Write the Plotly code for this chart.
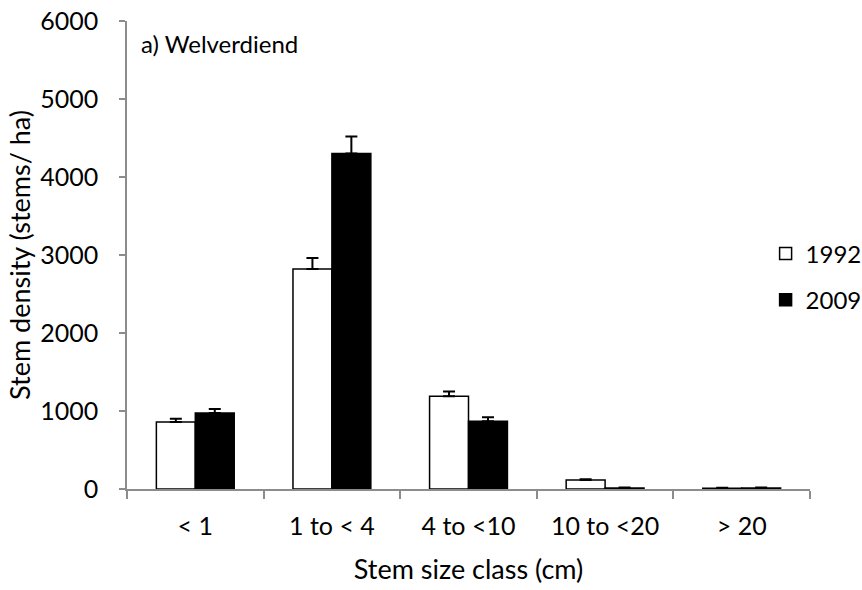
import plotly.graph_objects as go

categories = ["< 1", "1 to < 4", "4 to <10", "10 to <20", "> 20"]
vals_1992 = [860, 2820, 1190, 115, 10]
err_1992 = [40, 140, 60, 10, 5]
vals_2009 = [975, 4300, 870, 12, 12]
err_2009 = [50, 220, 50, 6, 6]

font_family = "Lato, 'Open Sans', sans-serif"

fig = go.Figure()
fig.add_trace(go.Bar(
    x=categories, y=vals_1992, name="1992", legendgroup="g1",
    marker=dict(color="white", line=dict(color="black", width=1.5)),
    error_y=dict(type="data", array=err_1992, arrayminus=[0]*5, symmetric=False,
                 color="black", thickness=2, width=6),
))
fig.add_trace(go.Bar(
    x=categories, y=vals_2009, name="2009", legendgroup="g2",
    marker=dict(color="black", line=dict(color="black", width=1.5)),
    error_y=dict(type="data", array=err_2009, arrayminus=[0]*5, symmetric=False,
                 color="black", thickness=2, width=6),
))

fig.update_layout(
    width=862, height=590,
    margin=dict(l=127, r=52, t=21, b=101, autoexpand=False),
    paper_bgcolor="white", plot_bgcolor="white",
    barmode="group", bargap=0.43, bargroupgap=0,
    font=dict(family=font_family, size=24, color="black"),
    showlegend=True,
    legend=dict(x=0.935, xanchor="left", y=0.453, yanchor="middle",
                font=dict(size=24), tracegroupgap=12, itemwidth=30,
                bgcolor="rgba(0,0,0,0)"),
    annotations=[dict(text="a) Welverdiend", x=0.018, y=0.987, xref="paper", yref="paper",
                      xanchor="left", yanchor="top", showarrow=False,
                      font=dict(size=24, family=font_family))],
)
fig.update_xaxes(
    showline=True, linecolor="#8c8c8c", linewidth=1.5,
    ticks="outside", tickson="boundaries", ticklen=8, tickcolor="#8c8c8c", tickwidth=1.5,
    ticklabelstandoff=14,
    title=dict(text="Stem size class (cm)", font=dict(size=27), standoff=21),
    tickfont=dict(size=25), showgrid=False, automargin=False,
)
fig.update_yaxes(
    range=[0, 6000], dtick=1000,
    showline=True, linecolor="#8c8c8c", linewidth=1.5,
    ticks="outside", ticklen=6, tickcolor="#8c8c8c", tickwidth=1.5,
    ticklabelstandoff=16,
    title=dict(text="Stem density (stems/ ha)", font=dict(size=27), standoff=2),
    tickfont=dict(size=25), showgrid=False, zeroline=False, automargin=False,
)

fig.write_html("out.html")
